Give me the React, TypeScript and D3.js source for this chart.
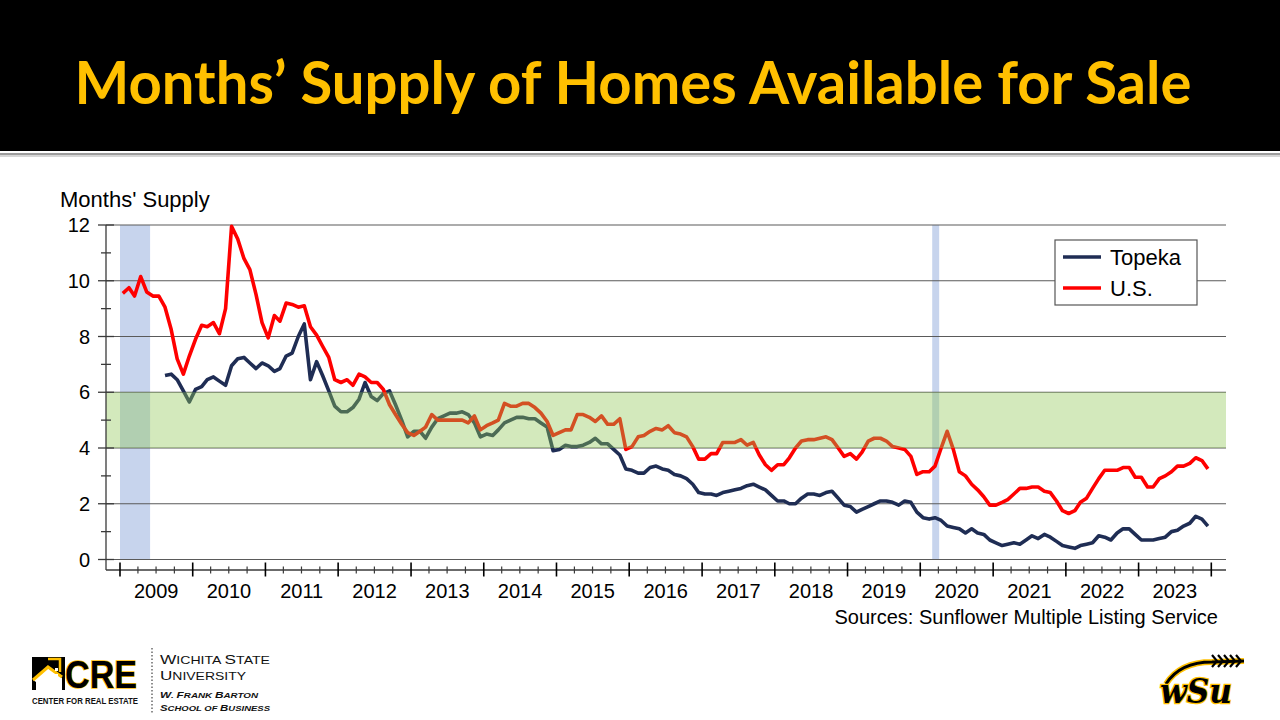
import React, { useEffect, useRef } from 'react';
import * as d3 from 'd3';

// monthly months' supply, Jan 2009 .. Dec 2023
const startYear = 2009;
const usSupply: number[] = [
  9.55, 9.75, 9.45, 10.15, 9.6, 9.45, 9.45, 9.05, 8.25, 7.2, 6.65, 7.3,
  7.9, 8.4, 8.35, 8.5, 8.1, 9.0, 11.95, 11.5, 10.8, 10.4, 9.5, 8.5,
  7.95, 8.75, 8.55, 9.2, 9.15, 9.05, 9.1, 8.35, 8.05, 7.65, 7.25, 6.45,
  6.35, 6.45, 6.25, 6.65, 6.55, 6.35, 6.35, 6.1, 5.55, 5.2, 4.85, 4.55,
  4.45, 4.6, 4.75, 5.2, 5.0, 5.0, 5.0, 5.0, 5.0, 4.9, 5.15, 4.65,
  4.8, 4.9, 5.0, 5.6, 5.5, 5.5, 5.6, 5.6, 5.45, 5.25, 4.95, 4.45,
  4.55, 4.65, 4.65, 5.2, 5.2, 5.1, 4.95, 5.15, 4.85, 4.85, 5.05, 3.95,
  4.05, 4.4, 4.45, 4.6, 4.7, 4.65, 4.8, 4.55, 4.5, 4.4, 4.05, 3.6,
  3.6, 3.8, 3.8, 4.2, 4.2, 4.2, 4.3, 4.1, 4.2, 3.75, 3.4, 3.2,
  3.4, 3.4, 3.65, 4.0, 4.25, 4.3, 4.3, 4.35, 4.4, 4.3, 4.0, 3.7,
  3.8, 3.6, 3.85, 4.25, 4.35, 4.35, 4.25, 4.05, 4.0, 3.95, 3.7, 3.05,
  3.15, 3.15, 3.35, 4.0, 4.6, 3.95, 3.15, 3.0, 2.7, 2.5, 2.25, 1.95,
  1.95, 2.05, 2.15, 2.35, 2.55, 2.55, 2.6, 2.6, 2.45, 2.4, 2.1, 1.75,
  1.65, 1.75, 2.05, 2.2, 2.55, 2.9, 3.2, 3.2, 3.2, 3.3, 3.3, 2.95,
  2.95, 2.6, 2.6, 2.9, 3.0, 3.15, 3.35, 3.35, 3.45, 3.65, 3.55, 3.25,
];
const topekaSupply: (number | null)[] = [
  null, null, null, null, null, null, null, 6.6, 6.65, 6.45, 6.05, 5.65,
  6.1, 6.2, 6.45, 6.55, 6.4, 6.25, 6.95, 7.2, 7.25, 7.05, 6.85, 7.05,
  6.95, 6.75, 6.85, 7.3, 7.4, 8.0, 8.45, 6.45, 7.1, 6.6, 6.05, 5.5,
  5.3, 5.3, 5.45, 5.75, 6.35, 5.85, 5.7, 5.95, 6.05, 5.55, 5.0, 4.4,
  4.6, 4.6, 4.35, 4.75, 5.05, 5.15, 5.25, 5.25, 5.3, 5.2, 4.9, 4.4,
  4.5, 4.45, 4.65, 4.9, 5.0, 5.1, 5.1, 5.05, 5.05, 4.9, 4.75, 3.9,
  3.95, 4.1, 4.05, 4.05, 4.1, 4.2, 4.35, 4.15, 4.15, 3.95, 3.75, 3.25,
  3.2, 3.1, 3.1, 3.3, 3.35, 3.25, 3.2, 3.05, 3.0, 2.9, 2.7, 2.4,
  2.35, 2.35, 2.3, 2.4, 2.45, 2.5, 2.55, 2.65, 2.7, 2.6, 2.5, 2.3,
  2.1, 2.1, 2.0, 2.0, 2.2, 2.35, 2.35, 2.3, 2.4, 2.45, 2.2, 1.95,
  1.9, 1.7, 1.8, 1.9, 2.0, 2.1, 2.1, 2.05, 1.95, 2.1, 2.05, 1.7,
  1.5, 1.45, 1.5, 1.4, 1.2, 1.15, 1.1, 0.95, 1.1, 0.95, 0.9, 0.7,
  0.6, 0.5, 0.55, 0.6, 0.55, 0.7, 0.85, 0.75, 0.9, 0.8, 0.65, 0.5,
  0.45, 0.4, 0.5, 0.55, 0.6, 0.85, 0.8, 0.7, 0.95, 1.1, 1.1, 0.9,
  0.7, 0.7, 0.7, 0.75, 0.8, 1.0, 1.05, 1.2, 1.3, 1.55, 1.45, 1.2,
];
const yearLabels = ['2009', '2010', '2011', '2012', '2013', '2014', '2015', '2016',
  '2017', '2018', '2019', '2020', '2021', '2022', '2023'];
const yTickValues = [0, 2, 4, 6, 8, 10, 12];
// recession shading (start, end)
const recessions: [string, string][] = [['2009-01-01', '2009-06-01'], ['2020-03-01', '2020-04-05']];
// balanced-market zone, months of supply
const balancedZone = [4, 6];
const seriesNames = ['Topeka', 'U.S.'];

const NAVY = '#1f2d54';
const RED = '#ff0000';
const GOLD = '#ffc000';
const FONT = '"Liberation Sans", Arial, sans-serif';

export default function App() {
  const svgRef = useRef<SVGSVGElement>(null);

  useEffect(() => {
    if (!svgRef.current) return;
    const width = 1280;
    const height = 720;
    const svg = d3.select(svgRef.current)
      .attr('width', width)
      .attr('height', height)
      .attr('viewBox', `0 0 ${width} ${height}`);
    svg.selectAll('*').remove();

    const plot = { left: 106, right: 1226, axisY: 570 };

    const x = d3.scaleTime()
      .domain([new Date(startYear, 0, 1), new Date(startYear + yearLabels.length, 0, 1)])
      .range([120, 1211.3]);
    const y = d3.scaleLinear().domain([0, 12]).range([559.5, 225]);
    const monthDate = (i: number) => new Date(startYear, i, 15);

    // Header
    svg.append('rect').attr('x', 0).attr('y', 0).attr('width', width).attr('height', 151).attr('fill', '#000');
    svg.append('rect').attr('x', 0).attr('y', 153).attr('width', width).attr('height', 2).attr('fill', '#9c9c9c');
    svg.append('rect').attr('x', 0).attr('y', 155).attr('width', width).attr('height', 2).attr('fill', '#d6d6d6');
    svg.append('text')
      .attr('x', 633)
      .attr('y', 104)
      .attr('text-anchor', 'middle')
      .attr('fill', GOLD)
      .attr('font-family', 'Lato, "Open Sans", sans-serif')
      .attr('font-weight', 700)
      .attr('font-size', 59)
      .attr('textLength', 1117)
      .attr('lengthAdjust', 'spacingAndGlyphs')
      .text('Months’ Supply of Homes Available for Sale');

    // Recession bands
    svg.selectAll('.recession')
      .data(recessions)
      .enter()
      .append('rect')
      .attr('x', d => x(new Date(d[0])))
      .attr('width', d => x(new Date(d[1])) - x(new Date(d[0])))
      .attr('y', y(12))
      .attr('height', y(0) - y(12))
      .attr('fill', '#4472c4')
      .attr('opacity', 0.3);

    // Grid lines
    svg.selectAll('.grid')
      .data(yTickValues)
      .enter()
      .append('line')
      .attr('x1', plot.left)
      .attr('x2', plot.right)
      .attr('y1', d => y(d))
      .attr('y2', d => y(d))
      .attr('stroke', '#5a5a5a')
      .attr('stroke-width', 1.2);

    // Series lines
    const line = d3.line<number | null>()
      .defined(d => d !== null)
      .x((_, i) => x(monthDate(i)))
      .y(d => y(d as number));

    svg.append('path')
      .datum(topekaSupply)
      .attr('d', line)
      .attr('fill', 'none')
      .attr('stroke', NAVY)
      .attr('stroke-width', 3.6)
      .attr('stroke-linejoin', 'round');

    svg.append('path')
      .datum(usSupply)
      .attr('d', line)
      .attr('fill', 'none')
      .attr('stroke', RED)
      .attr('stroke-width', 3.6)
      .attr('stroke-linejoin', 'round');

    // Balanced-market zone overlay
    svg.append('rect')
      .attr('x', plot.left)
      .attr('width', plot.right - plot.left)
      .attr('y', y(balancedZone[1]))
      .attr('height', y(balancedZone[0]) - y(balancedZone[1]))
      .attr('fill', '#92c858')
      .attr('opacity', 0.4);

    // Y axis
    const axisColor = '#3a3a3a';
    svg.append('line')
      .attr('x1', plot.left).attr('x2', plot.left)
      .attr('y1', y(12)).attr('y2', plot.axisY)
      .attr('stroke', axisColor).attr('stroke-width', 1.3);
    svg.selectAll('.ytick')
      .data(d3.range(0, 13))
      .enter()
      .append('line')
      .attr('x1', d => d % 2 === 0 ? plot.left - 8 : plot.left - 5)
      .attr('x2', d => d % 2 === 0 ? plot.left + 8 : plot.left + 5)
      .attr('y1', d => y(d)).attr('y2', d => y(d))
      .attr('stroke', axisColor).attr('stroke-width', 1.3);
    svg.selectAll('.ylabel')
      .data(yTickValues)
      .enter()
      .append('text')
      .attr('x', 90)
      .attr('y', d => y(d) + 7)
      .attr('text-anchor', 'end')
      .attr('font-family', FONT)
      .attr('font-size', 20)
      .attr('fill', '#000')
      .text(d => String(d));
    svg.append('text')
      .attr('x', 60).attr('y', 207)
      .attr('font-family', FONT).attr('font-size', 22).attr('fill', '#000')
      .text("Months' Supply");

    // X axis
    svg.append('line')
      .attr('x1', plot.left).attr('x2', plot.right)
      .attr('y1', plot.axisY).attr('y2', plot.axisY)
      .attr('stroke', axisColor).attr('stroke-width', 1.3);
    const [d0, d1] = x.domain();
    const majorTicks = d3.timeYear.range(d0, d3.timeDay.offset(d1, 1));
    const minorTicks = d3.timeMonth.every(3)!.range(d0, d1).filter(d => d.getMonth() !== 0);
    svg.selectAll('.xmajor')
      .data(majorTicks)
      .enter()
      .append('line')
      .attr('x1', d => x(d)).attr('x2', d => x(d))
      .attr('y1', plot.axisY - 7.5).attr('y2', plot.axisY + 6.5)
      .attr('stroke', '#000').attr('stroke-width', 1.6);
    svg.selectAll('.xminor')
      .data(minorTicks)
      .enter()
      .append('line')
      .attr('x1', d => x(d)).attr('x2', d => x(d))
      .attr('y1', plot.axisY - 3.5).attr('y2', plot.axisY + 3.5)
      .attr('stroke', axisColor).attr('stroke-width', 1.2);
    svg.selectAll('.xlabel')
      .data(yearLabels)
      .enter()
      .append('text')
      .attr('x', d => x(new Date(+d, 6, 2)))
      .attr('y', 598)
      .attr('text-anchor', 'middle')
      .attr('font-family', FONT).attr('font-size', 20).attr('fill', '#000')
      .text(d => d);

    svg.append('text')
      .attr('x', 1218).attr('y', 624)
      .attr('text-anchor', 'end')
      .attr('font-family', FONT).attr('font-size', 20).attr('fill', '#000')
      .text('Sources: Sunflower Multiple Listing Service');

    // Legend
    const legend = svg.append('g').attr('transform', 'translate(1055,240)');
    legend.append('rect')
      .attr('width', 142).attr('height', 65)
      .attr('fill', '#fff').attr('stroke', '#555').attr('stroke-width', 1.2);
    const legendColors = [NAVY, RED];
    seriesNames.forEach((name, i) => {
      legend.append('line')
        .attr('x1', 8).attr('x2', 46)
        .attr('y1', 17 + i * 31).attr('y2', 17 + i * 31)
        .attr('stroke', legendColors[i]).attr('stroke-width', 3.6);
      legend.append('text')
        .attr('x', 55).attr('y', 25 + i * 31)
        .attr('font-family', FONT).attr('font-size', 22).attr('fill', '#000')
        .text(name);
    });

    // Footer: CRE / Wichita State logo
    const cre = svg.append('g');
    cre.append('rect').attr('x', 32).attr('y', 657).attr('width', 33).attr('height', 33).attr('fill', '#000');
    cre.append('path')
      .attr('d', 'M33,680 L48,668 L62,678 L62,690 L36,690 L36,682 Z')
      .attr('fill', '#fff');
    cre.append('path')
      .attr('d', 'M33,680 L48,667 L62,677')
      .attr('fill', 'none').attr('stroke', GOLD).attr('stroke-width', 3);
    cre.append('path')
      .attr('d', 'M48,659 L60,659 L60,672')
      .attr('fill', 'none').attr('stroke', GOLD).attr('stroke-width', 2.5);
    cre.append('rect').attr('x', 55).attr('y', 668).attr('width', 3).attr('height', 3).attr('fill', '#fff');
    cre.append('rect').attr('x', 55).attr('y', 674).attr('width', 3).attr('height', 3).attr('fill', '#fff');
    cre.append('text')
      .attr('x', 65).attr('y', 688)
      .attr('font-family', '"Liberation Sans Narrow", "Liberation Sans", sans-serif')
      .attr('font-weight', 700).attr('font-size', 38)
      .attr('textLength', 72).attr('lengthAdjust', 'spacingAndGlyphs')
      .attr('fill', '#000').attr('stroke', GOLD).attr('stroke-width', 1.5)
      .attr('paint-order', 'stroke')
      .text('CRE');
    cre.append('text')
      .attr('x', 32).attr('y', 704)
      .attr('font-family', '"Liberation Sans Narrow", "Liberation Sans", sans-serif')
      .attr('font-weight', 700).attr('font-size', 9.5)
      .attr('textLength', 106).attr('lengthAdjust', 'spacingAndGlyphs')
      .attr('fill', '#111')
      .text('CENTER FOR REAL ESTATE');
    cre.append('line')
      .attr('x1', 152).attr('x2', 152).attr('y1', 648).attr('y2', 714)
      .attr('stroke', '#444').attr('stroke-width', 1.2).attr('stroke-dasharray', '1.5,2');

    // small-caps wordmark: [big letter, rest] pairs
    const wsuLines = [
      { parts: [['W', 'ICHITA '], ['S', 'TATE']], y: 664, big: 13.5, small: 11, italic: false, len: 110 },
      { parts: [['U', 'NIVERSITY']], y: 680, big: 13.5, small: 11, italic: false, len: 86 },
      { parts: [['W', '. '], ['F', 'RANK '], ['B', 'ARTON']], y: 698, big: 9, small: 7.5, italic: true, len: 98 },
      { parts: [['S', 'CHOOL OF '], ['B', 'USINESS']], y: 711, big: 9, small: 7.5, italic: true, len: 110 },
    ];
    wsuLines.forEach(l => {
      const t = cre.append('text')
        .attr('x', 160).attr('y', l.y)
        .attr('font-family', FONT)
        .attr('font-weight', l.italic ? 700 : 400)
        .attr('font-style', l.italic ? 'italic' : 'normal')
        .attr('textLength', l.len).attr('lengthAdjust', 'spacingAndGlyphs')
        .attr('fill', '#111');
      l.parts.forEach(([b, s]) => {
        t.append('tspan').attr('font-size', l.big).text(b);
        t.append('tspan').attr('font-size', l.small).text(s);
      });
    });

    // Footer: WSU shocker logo
    const shock = svg.append('g');
    shock.append('path')
      .attr('d', 'M1166,684 C1176,668 1192,662 1212,662 L1244,661')
      .attr('fill', 'none').attr('stroke', GOLD).attr('stroke-width', 6);
    shock.append('path')
      .attr('d', 'M1166,684 C1176,668 1192,662 1212,662 L1244,661')
      .attr('fill', 'none').attr('stroke', '#000').attr('stroke-width', 3);
    d3.range(5).forEach(k => {
      const gx = 1212 + k * 6;
      shock.append('path')
        .attr('d', `M${gx},655 L${gx + 5},661 L${gx},667`)
        .attr('fill', 'none').attr('stroke', '#000').attr('stroke-width', 2.2);
    });
    shock.append('text')
      .attr('x', 1196).attr('y', 703)
      .attr('text-anchor', 'middle')
      .attr('font-family', '"DejaVu Serif", serif')
      .attr('font-weight', 700).attr('font-style', 'italic')
      .attr('font-size', 34)
      .attr('textLength', 72).attr('lengthAdjust', 'spacingAndGlyphs')
      .attr('fill', '#000').attr('stroke', GOLD).attr('stroke-width', 2.5)
      .attr('paint-order', 'stroke')
      .text('wSu');
  }, []);

  return (
    <svg
      ref={svgRef}
      style={{ position: 'absolute', left: 0, top: 0, display: 'block', background: '#fff' }}
    />
  );
}
